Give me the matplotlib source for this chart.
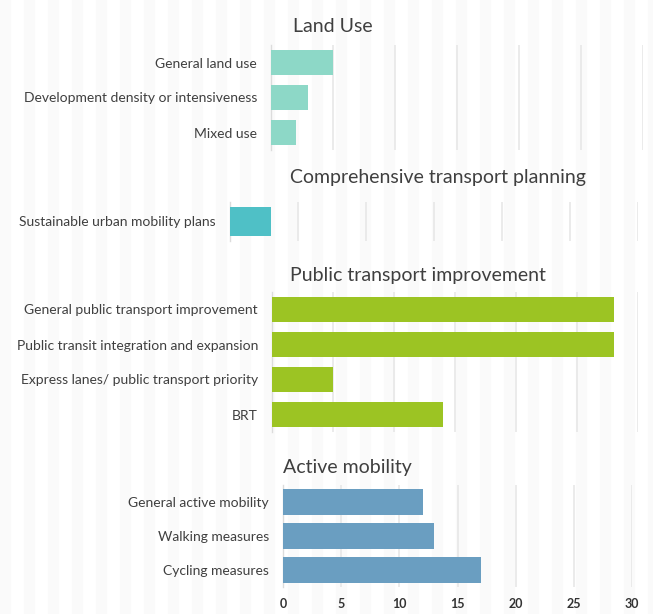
import matplotlib
matplotlib.use("Agg")
import matplotlib.pyplot as plt

# ---- data ----
land_cats = ["General land use", "Development density or intensiveness", "Mixed use"]
land_vals = [5, 3, 2]

comp_cats = ["Sustainable urban mobility plans"]
comp_vals = [3]

pt_cats = ["General public transport improvement", "Public transit integration and expansion",
           "Express lanes/ public transport priority", "BRT"]
pt_vals = [28, 28, 5, 14]

act_cats = ["General active mobility", "Walking measures", "Cycling measures"]
act_vals = [12, 13, 17]

xticks = [0, 5, 10, 15, 20, 25, 30]

titles = ["Land Use", "Comprehensive transport planning", "Public transport improvement", "Active mobility"]
colors = ["#8DD8C7", "#4FC0C6", "#9CC423", "#6A9EC1"]

W, H = 653, 614
fig = plt.figure(figsize=(W / 100, H / 100), dpi=100)
fig.patch.set_facecolor("white")

# faint vertical background stripes
for i in range(0, W, 24):
    fig.patches.append(plt.Rectangle((i / W, 0), 10 / W, 1, transform=fig.transFigure,
                                     color="#fafafa", zorder=-10))

FONT = "Lato"
TXT = "#3f3f3f"


def px_axes(x0, x1, ytop, ybot):
    return fig.add_axes([x0 / W, 1 - ybot / H, (x1 - x0) / W, (ybot - ytop) / H])


def panel(ax, cats, vals, color, show_x=False):
    y = list(range(len(cats)))
    ax.barh(y, vals, height=0.74, color=color, zorder=3)
    ax.set_xlim(0, 30)
    ax.set_ylim(len(cats) - 0.5, -0.5)
    ax.set_yticks(y)
    ax.set_yticklabels(cats, fontsize=10, color=TXT, family=FONT)
    ax.tick_params(axis="y", length=0, pad=10)
    ax.set_xticks(xticks)
    ax.xaxis.grid(True, color="#e9e9e9", linewidth=1.3, zorder=0)
    ax.set_axisbelow(True)
    for s in ["top", "right", "bottom"]:
        ax.spines[s].set_visible(False)
    ax.spines["left"].set_color("#dcdcdc")
    ax.spines["left"].set_linewidth(1)
    ax.patch.set_alpha(0)
    if show_x:
        ax.set_xticklabels([str(t) for t in xticks], fontsize=9, color="#333333",
                           family=FONT, fontweight="bold")
        ax.tick_params(axis="x", length=0, pad=8)
    else:
        ax.tick_params(axis="x", length=0, labelbottom=False)


ax1 = px_axes(271, 643, 45, 150)
panel(ax1, land_cats, land_vals, colors[0])

ax2 = px_axes(230, 638, 202, 241)
panel(ax2, comp_cats, comp_vals, colors[1])

ax3 = px_axes(272, 638, 292, 432)
panel(ax3, pt_cats, pt_vals, colors[2])

ax4 = px_axes(283, 632, 485, 587)
panel(ax4, act_cats, act_vals, colors[3], show_x=True)

title_pos = [(293, 27), (290, 177), (290, 276), (283, 467)]
for t, (x, y) in zip(titles, title_pos):
    fig.text(x / W, 1 - y / H, t, fontsize=14, color=TXT, family=FONT,
             ha="left", va="center")

fig.savefig("out.png", dpi=100)
